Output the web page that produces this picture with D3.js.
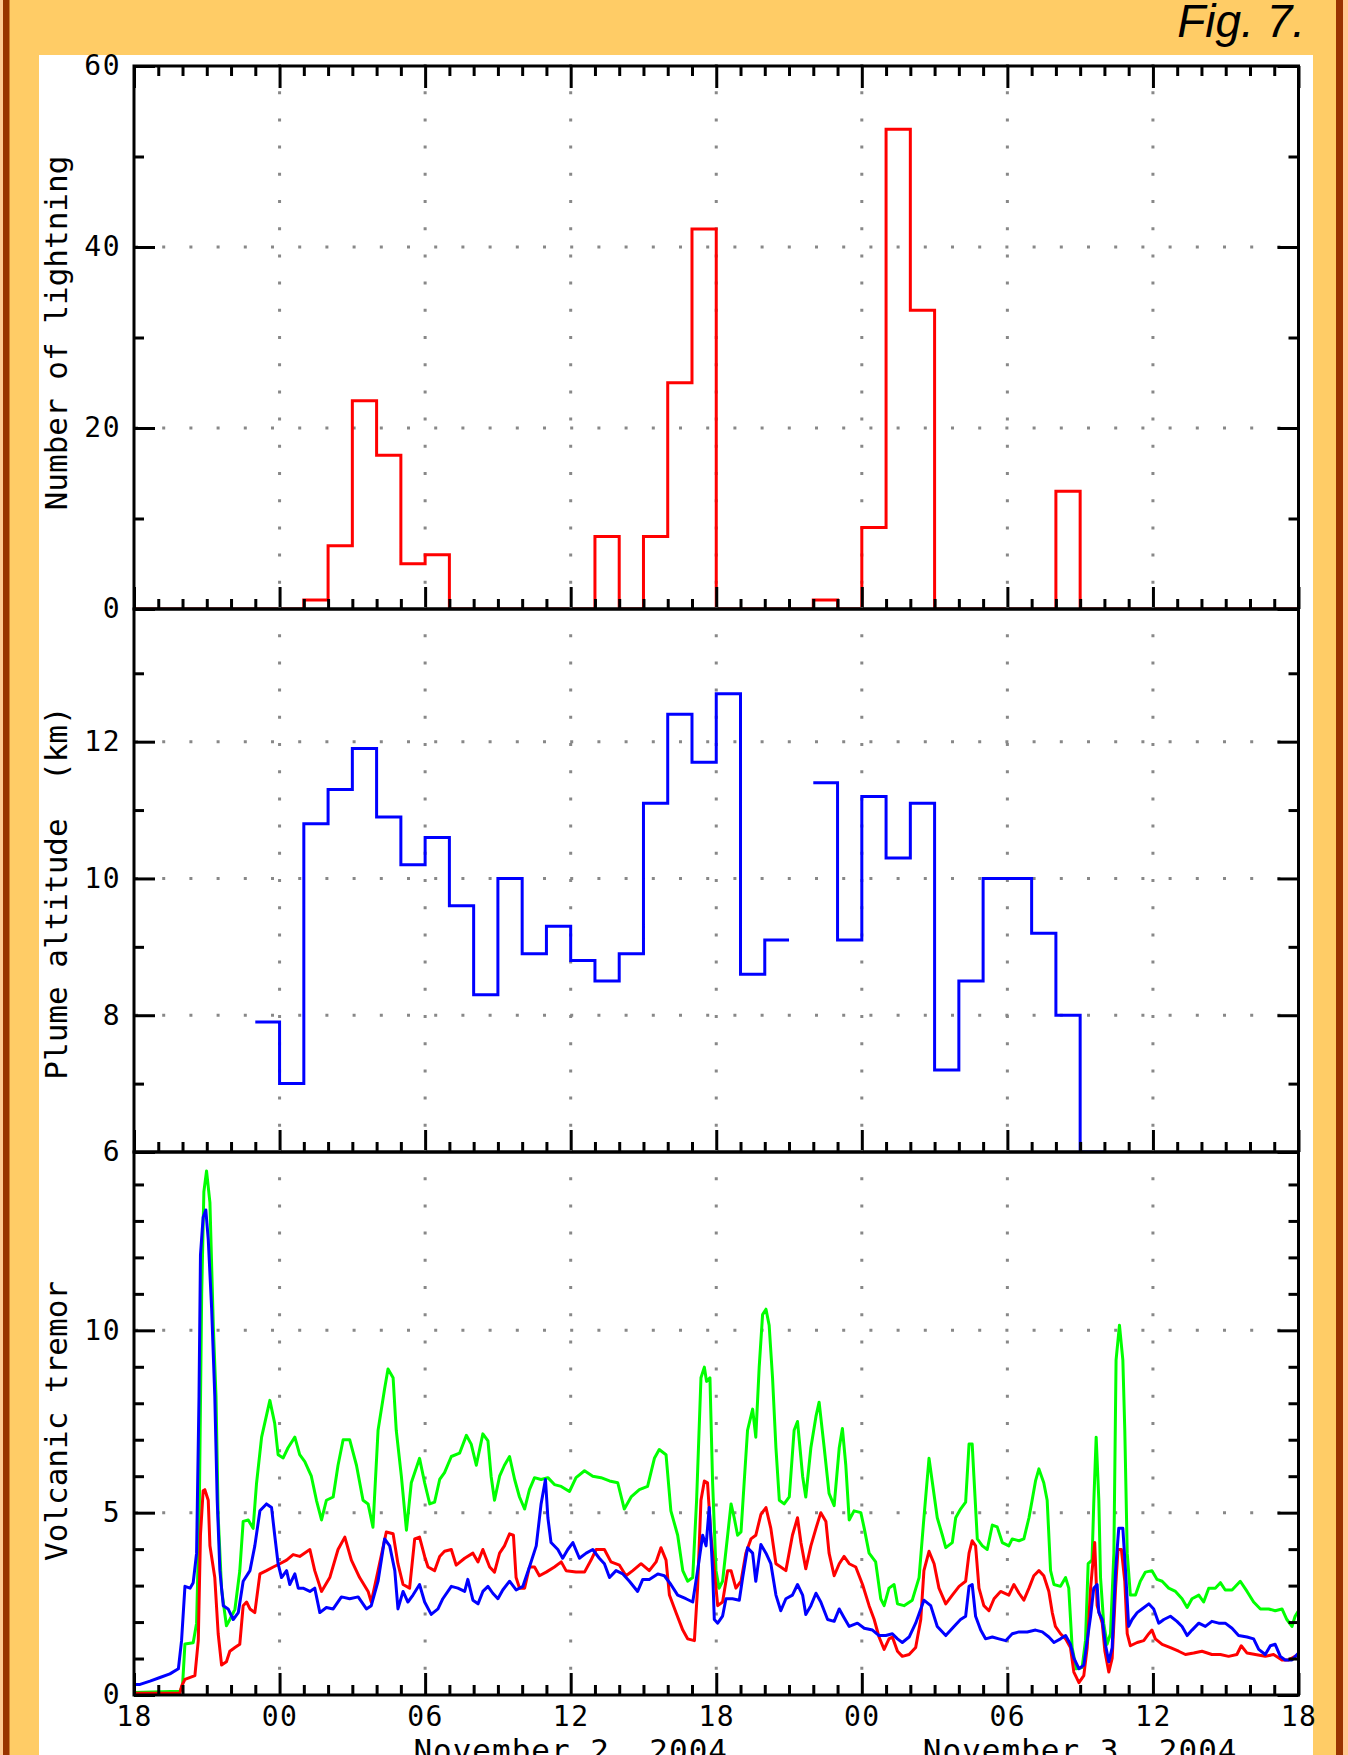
<!DOCTYPE html>
<html>
<head>
<meta charset="utf-8">
<title>Fig. 7</title>
<script src="https://cdn.jsdelivr.net/npm/d3@7"></script>
<style>
  html, body { margin: 0; padding: 0; background: #fff; }
  svg { display: block; }
  .tick line { stroke: #000; stroke-width: 3px; }
  .tick text {
    font-family: 'DejaVu Sans Mono', monospace;
    font-size: 28px;
    letter-spacing: 1.5px;
    fill: #000;
  }
  .axis-title, .day-label {
    font-family: 'DejaVu Sans Mono', monospace;
    font-size: 31px;
    fill: #000;
    white-space: pre;
  }
  .grid { stroke: #888; stroke-width: 3px; stroke-dasharray: 3 24.2; }
</style>
</head>
<body>
<svg id="chart" width="1348" height="1755"></svg>
<script>
'use strict';

// x is hours since 18:00 UT on 1 November 2004
var startClock = 18;
var spanHours = 48;
var dayLabels = [
  { text: 'November 2, 2004', from: 6, to: 30 },
  { text: 'November 3, 2004', from: 30, to: 48 }
];

// lightning count for each hourly bin (bin i covers hour i to i+1)
var lightning = [
  0, 0, 0, 0, 0, 0, 0, 1, 7, 23, 17, 5, 6, 0, 0, 0, 0, 0, 0, 8, 0, 8, 25, 42,
  0, 0, 0, 0, 1, 0, 9, 53, 33, 0, 0, 0, 0, 0, 13, 0, 0, 0, 0, 0, 0, 0, 0, 0
];

// plume altitude (km) for hourly bins starting at hour 5, null = no data
var plumeStart = 5;
var plume = [
  7.9, 7.0, 10.8, 11.3, 11.9, 10.9, 10.2, 10.6, 9.6, 8.3, 10.0, 8.9, 9.3, 8.8,
  8.5, 8.9, 11.1, 12.4, 11.7, 12.7, 8.6, 9.1, null, 11.4, 9.1, 11.2, 10.3, 11.1,
  7.2, 8.5, 10.0, 10.0, 9.2, 8.0, 6.0
];

// volcanic tremor, [hour, amplitude]
var tremorGreen = [
  [0,0.07],[1.89,0.1],[2.0,0.25],[2.1,1.4],[2.44,1.43],[2.58,1.97],[2.69,5.0],[2.79,11.0],[2.88,13.8],[2.99,14.37],
  [3.13,13.5],[3.27,10.1],[3.38,8.2],[3.47,4.9],[3.61,2.9],[3.81,1.9],[3.95,2.07],[4.16,2.35],[4.36,3.4],[4.5,4.76],
  [4.71,4.8],[4.91,4.57],[5.05,5.8],[5.26,7.07],[5.6,8.08],[5.8,7.45],[5.94,6.59],[6.15,6.5],[6.35,6.78],[6.63,7.07],
  [6.83,6.59],[7.04,6.4],[7.31,6.0],[7.52,5.34],[7.73,4.8],[7.93,5.34],[8.21,5.43],[8.41,6.3],[8.62,7.0],[8.89,7.0],
  [9.17,6.3],[9.44,5.34],[9.65,5.24],[9.85,4.6],[10.06,7.26],[10.33,8.4],[10.47,8.94],[10.68,8.7],[10.81,7.26],[11.02,6.0],
  [11.23,4.52],[11.43,5.82],[11.77,6.49],[11.98,5.82],[12.19,5.24],[12.39,5.29],[12.6,5.91],[12.8,6.1],[13.08,6.54],[13.42,6.63],
  [13.7,7.12],[13.9,6.88],[14.11,6.3],[14.38,7.16],[14.59,6.97],[14.72,6.0],[14.86,5.34],[15.07,6.0],[15.27,6.3],[15.48,6.54],
  [15.69,5.91],[15.89,5.43],[16.1,5.1],[16.3,5.63],[16.51,5.96],[16.78,5.91],[17.06,5.96],[17.33,5.77],[17.61,5.72],[17.95,5.58],
  [18.22,5.96],[18.57,6.15],[18.91,6.0],[19.25,5.96],[19.6,5.87],[19.94,5.82],[20.21,5.1],[20.49,5.43],[20.83,5.63],[21.17,5.72],
  [21.45,6.49],[21.65,6.73],[21.93,6.59],[22.13,5.05],[22.41,4.38],[22.62,3.41],[22.82,3.12],[23.03,3.22],[23.19,5.34],[23.37,8.7],
  [23.51,8.99],[23.6,8.6],[23.74,8.7],[23.85,5.82],[23.99,3.41],[24.12,2.93],[24.26,3.12],[24.47,4.38],[24.61,5.24],[24.74,4.86],
  [24.88,4.38],[25.02,4.47],[25.15,5.82],[25.29,7.26],[25.5,7.84],[25.63,7.07],[25.77,8.99],[25.91,10.43],[26.05,10.58],[26.18,10.14],
  [26.32,8.7],[26.46,6.78],[26.6,5.34],[26.8,5.24],[27.01,5.43],[27.21,7.26],[27.35,7.5],[27.56,6.0],[27.69,5.43],[27.9,6.78],
  [28.11,7.64],[28.24,8.03],[28.45,6.78],[28.65,5.53],[28.86,5.19],[29.07,6.78],[29.2,7.31],[29.34,6.3],[29.48,4.8],[29.68,5.05],
  [29.96,5.0],[30.1,4.57],[30.3,3.89],[30.57,3.65],[30.78,2.64],[30.92,2.45],[31.12,2.93],[31.33,3.03],[31.47,2.5],[31.74,2.45],
  [32.08,2.6],[32.36,3.22],[32.56,4.86],[32.77,6.49],[32.91,5.82],[33.11,4.86],[33.32,4.38],[33.46,4.04],[33.73,4.18],[33.87,4.86],
  [34.07,5.1],[34.28,5.29],[34.42,6.88],[34.55,6.88],[34.62,6.0],[34.76,4.28],[34.97,4.09],[35.17,3.99],[35.38,4.66],[35.58,4.61],
  [35.79,4.18],[36.06,4.09],[36.2,4.28],[36.48,4.23],[36.68,4.28],[36.89,4.86],[37.02,5.34],[37.16,5.87],[37.3,6.2],[37.5,5.82],
  [37.64,5.34],[37.78,3.41],[37.92,3.03],[38.19,2.98],[38.4,3.22],[38.53,2.93],[38.67,1.3],[38.84,0.72],[39.08,0.75],[39.22,1.49],
  [39.33,3.6],[39.49,3.7],[39.56,5.24],[39.66,7.07],[39.77,5.34],[39.84,3.22],[39.97,1.97],[40.11,1.39],[40.25,1.68],[40.39,3.89],
  [40.48,9.18],[40.62,10.14],[40.76,9.18],[40.84,7.26],[40.94,3.89],[41.07,2.74],[41.28,2.74],[41.48,3.12],[41.69,3.37],[41.96,3.41],
  [42.17,3.17],[42.38,3.12],[42.65,2.93],[42.93,2.84],[43.2,2.64],[43.41,2.4],[43.61,2.64],[43.89,2.74],[44.09,2.55],[44.3,2.93],
  [44.57,2.93],[44.78,3.08],[44.98,2.88],[45.26,2.88],[45.6,3.12],[45.88,2.84],[46.15,2.55],[46.43,2.36],[46.77,2.36],[47.04,2.31],
  [47.32,2.36],[47.52,2.07],[47.73,1.88],[47.86,2.16],[48,2.31]
];
var tremorRed = [
  [0,0.05],[1.89,0.05],[1.96,0.24],[2.1,0.43],[2.51,0.53],[2.65,1.5],[2.74,4.4],[2.85,5.6],[2.92,5.63],[3.06,5.34],
  [3.13,4.09],[3.33,3.22],[3.47,1.68],[3.61,0.82],[3.81,0.91],[3.95,1.2],[4.16,1.3],[4.36,1.39],[4.5,2.45],[4.64,2.55],
  [4.78,2.36],[4.98,2.26],[5.19,3.32],[5.46,3.41],[5.74,3.51],[6.01,3.6],[6.29,3.7],[6.56,3.85],[6.83,3.8],[7.25,3.99],
  [7.45,3.41],[7.73,2.84],[8.07,3.22],[8.41,3.99],[8.69,4.33],[8.96,3.7],[9.3,3.22],[9.65,2.84],[9.78,2.55],[10.06,3.41],
  [10.4,4.47],[10.68,4.42],[10.88,3.6],[11.09,3.03],[11.36,2.93],[11.57,4.28],[11.77,4.33],[11.98,3.8],[12.12,3.51],[12.39,3.41],
  [12.6,3.8],[12.8,3.94],[13.08,3.99],[13.28,3.56],[13.63,3.75],[13.97,3.89],[14.18,3.65],[14.38,3.99],[14.66,3.51],[14.86,3.37],
  [15.07,3.89],[15.27,4.09],[15.48,4.42],[15.64,4.38],[15.75,3.22],[15.89,2.93],[16.1,2.93],[16.3,3.51],[16.51,3.51],[16.71,3.27],
  [16.99,3.37],[17.33,3.51],[17.61,3.65],[17.81,3.41],[18.22,3.37],[18.57,3.37],[18.84,3.7],[19.05,3.99],[19.39,3.99],[19.66,3.65],
  [20.01,3.56],[20.28,3.27],[20.56,3.41],[20.9,3.6],[21.24,3.41],[21.52,3.65],[21.72,4.04],[21.93,3.7],[22.07,2.74],[22.34,2.26],
  [22.62,1.78],[22.82,1.54],[23.1,1.49],[23.23,2.93],[23.37,5.34],[23.51,5.87],[23.64,5.82],[23.78,4.38],[23.99,2.93],[24.06,2.45],
  [24.26,2.55],[24.47,3.41],[24.61,3.41],[24.81,2.93],[25.02,3.12],[25.22,3.89],[25.43,4.28],[25.63,4.38],[25.84,4.95],[26.05,5.14],
  [26.25,4.57],[26.46,3.6],[26.66,3.51],[26.87,3.41],[27.14,4.38],[27.35,4.86],[27.49,4.18],[27.69,3.46],[27.9,4.09],[28.11,4.57],
  [28.31,5.0],[28.52,4.76],[28.65,3.89],[28.86,3.27],[29.07,3.6],[29.27,3.8],[29.48,3.6],[29.75,3.51],[30.03,3.03],[30.3,2.45],
  [30.51,2.07],[30.71,1.59],[30.92,1.25],[31.12,1.54],[31.26,1.59],[31.47,1.2],[31.67,1.06],[31.95,1.11],[32.22,1.3],[32.43,2.07],
  [32.56,3.41],[32.77,3.94],[32.98,3.6],[33.18,2.93],[33.46,2.5],[33.73,2.74],[34.01,2.98],[34.28,3.12],[34.42,3.89],[34.55,4.23],
  [34.69,4.09],[34.83,2.93],[35.03,2.45],[35.24,2.31],[35.45,2.64],[35.72,2.84],[36.06,2.74],[36.27,3.03],[36.48,2.79],[36.68,2.6],
  [36.89,2.93],[37.09,3.27],[37.3,3.41],[37.5,3.27],[37.71,2.84],[37.85,2.26],[37.98,1.88],[38.19,1.68],[38.4,1.54],[38.6,1.3],
  [38.74,0.63],[38.95,0.34],[39.15,0.53],[39.29,1.3],[39.43,2.93],[39.52,3.6],[39.6,4.18],[39.7,2.45],[39.91,1.97],[40.02,1.2],
  [40.18,0.63],[40.32,1.01],[40.46,2.93],[40.56,3.99],[40.7,3.99],[40.84,3.12],[40.94,1.68],[41.07,1.35],[41.35,1.44],[41.62,1.49],
  [41.83,1.68],[41.96,1.78],[42.1,1.54],[42.38,1.39],[42.72,1.3],[43.06,1.2],[43.34,1.11],[43.68,1.15],[44.02,1.2],[44.43,1.11],
  [44.78,1.11],[45.12,1.06],[45.46,1.11],[45.64,1.35],[45.88,1.15],[46.22,1.11],[46.63,1.06],[46.97,1.11],[47.32,0.96],[47.59,0.96],
  [47.86,1.06],[48,1.11]
];
var tremorBlue = [
  [0,0.29],[0.25,0.29],[0.66,0.38],[1.07,0.48],[1.48,0.58],[1.83,0.72],[1.96,1.49],[2.1,2.98],[2.31,2.93],[2.44,3.08],
  [2.58,3.89],[2.68,8.2],[2.74,12.07],[2.85,13.1],[2.96,13.3],[3.06,12.5],[3.2,10.6],[3.33,8.2],[3.43,5.34],[3.54,3.41],
  [3.68,2.45],[3.88,2.36],[4.09,2.07],[4.3,2.26],[4.5,3.12],[4.78,3.41],[4.98,4.09],[5.19,5.05],[5.46,5.24],[5.67,5.14],
  [5.8,4.38],[5.94,3.6],[6.08,3.22],[6.29,3.41],[6.42,3.03],[6.63,3.32],[6.77,2.93],[6.97,2.93],[7.25,2.84],[7.45,2.93],
  [7.66,2.26],[7.93,2.4],[8.21,2.36],[8.55,2.69],[8.89,2.64],[9.24,2.69],[9.58,2.36],[9.78,2.45],[10.06,3.12],[10.33,4.28],
  [10.54,4.09],[10.75,3.41],[10.88,2.36],[11.09,2.84],[11.29,2.55],[11.5,2.74],[11.77,3.03],[11.98,2.55],[12.25,2.21],[12.53,2.36],
  [12.73,2.64],[13.08,2.98],[13.35,2.93],[13.63,2.84],[13.76,3.17],[13.97,2.6],[14.18,2.5],[14.38,2.84],[14.59,2.98],[14.79,2.79],
  [15.0,2.64],[15.2,2.88],[15.48,3.12],[15.75,2.88],[16.03,2.98],[16.3,3.51],[16.58,4.09],[16.78,5.24],[16.96,5.91],[17.06,4.86],
  [17.19,4.18],[17.47,3.99],[17.67,3.75],[17.88,3.99],[18.09,4.18],[18.36,3.75],[18.64,3.89],[18.91,3.99],[19.18,3.75],[19.39,3.6],
  [19.6,3.22],[19.87,3.41],[20.15,3.32],[20.42,3.12],[20.76,2.84],[20.97,3.17],[21.24,3.17],[21.59,3.32],[21.86,3.27],[22.13,3.03],
  [22.41,2.74],[22.75,2.64],[23.03,2.55],[23.23,3.41],[23.44,4.38],[23.58,4.09],[23.71,5.14],[23.85,3.41],[23.92,2.07],[24.06,1.97],
  [24.26,2.16],[24.4,2.64],[24.67,2.64],[24.95,2.6],[25.09,3.22],[25.29,4.04],[25.5,3.89],[25.63,3.12],[25.84,4.13],[26.05,3.89],
  [26.25,3.6],[26.46,2.74],[26.66,2.31],[26.87,2.64],[27.14,2.74],[27.35,3.03],[27.56,2.74],[27.69,2.21],[27.9,2.45],[28.11,2.79],
  [28.31,2.55],[28.59,2.07],[28.86,2.02],[29.07,2.36],[29.27,2.12],[29.48,1.88],[29.82,1.97],[30.1,1.83],[30.44,1.78],[30.71,1.63],
  [30.99,1.63],[31.26,1.68],[31.47,1.54],[31.67,1.44],[31.95,1.59],[32.22,1.97],[32.56,2.6],[32.84,2.45],[33.11,1.88],[33.46,1.63],
  [33.8,1.88],[34.07,2.07],[34.28,2.16],[34.42,2.98],[34.55,3.03],[34.69,2.16],[34.9,1.78],[35.1,1.54],[35.38,1.59],[35.65,1.54],
  [35.93,1.49],[36.2,1.68],[36.48,1.73],[36.82,1.73],[37.16,1.78],[37.44,1.73],[37.71,1.59],[37.92,1.44],[38.19,1.54],[38.4,1.63],
  [38.6,1.39],[38.74,1.01],[38.95,0.72],[39.15,0.82],[39.29,1.49],[39.43,2.16],[39.56,2.93],[39.7,3.03],[39.77,2.26],[39.91,2.07],
  [40.04,1.39],[40.18,0.91],[40.32,1.3],[40.46,3.41],[40.59,4.57],[40.76,4.57],[40.87,3.41],[41.0,1.88],[41.14,2.07],[41.35,2.26],
  [41.55,2.36],[41.83,2.5],[42.03,2.36],[42.24,1.97],[42.45,2.07],[42.72,2.16],[42.99,2.02],[43.2,1.88],[43.41,1.63],[43.61,1.78],
  [43.89,1.97],[44.16,1.88],[44.43,2.02],[44.71,1.97],[44.98,1.97],[45.26,1.83],[45.53,1.63],[45.88,1.59],[46.15,1.54],[46.36,1.25],
  [46.63,1.11],[46.84,1.35],[47.04,1.39],[47.25,1.06],[47.45,0.96],[47.73,0.96],[48,1.15]
];

// tick values
var xMajor = d3.range(0, spanHours + 1, 6);
var xMinor = d3.range(0, spanHours + 1).filter(function(h) { return h % 6; });
var xGrid = d3.range(6, spanHours, 6);

var svg = d3.select('#chart');
var W = 1348, H = 1755;
var plotLeft = 134, plotRight = 1298.5;
var panelTops = [66, 609, 1152], panelBottom = 1695;

// page frame
svg.append('rect').attr('width', W).attr('height', H).attr('fill', '#ffcc66');
[[0, 3, '#ffc891'], [3, 6.5, '#993300'], [1336, 7, '#993300'], [1343, 5, '#ffc891']].forEach(function(s) {
  svg.append('rect').attr('x', s[0]).attr('y', 0).attr('width', s[1]).attr('height', H).attr('fill', s[2]);
});
svg.append('rect').attr('x', 39).attr('y', 55).attr('width', 1313 - 39).attr('height', H - 55).attr('fill', '#fff');

svg.append('text')
  .attr('x', 1305).attr('y', 37)
  .attr('text-anchor', 'end')
  .style('font-family', "'Liberation Sans', Arial, sans-serif")
  .style('font-style', 'italic')
  .style('font-size', '46px')
  .text('Fig. 7.');

var x = d3.scaleLinear().domain([0, spanHours]).range([plotLeft, plotRight]);

var clockFormat = function(h) {
  return String((startClock + h) % 24).padStart(2, '0');
};

var panels = [
  {
    title: 'Number of lightning', titleY: 333,
    domain: [0, 60], major: [0, 20, 40, 60], minor: [10, 30, 50], grid: [20, 40]
  },
  {
    title: 'Plume altitude  (km)', titleY: 893,
    domain: [6, 13.94], major: [6, 8, 10, 12], minor: [7, 9, 11, 13], grid: [8, 10, 12]
  },
  {
    title: 'Volcanic tremor', titleY: 1421,
    domain: [0, 14.89], major: [0, 5, 10], minor: [1, 2, 3, 4, 6, 7, 8, 9, 11, 12, 13, 14], grid: [5, 10]
  }
];

function noDomain(g) { g.select('.domain').remove(); }

/**
 * Step outline for hourly bins; null breaks the line.
 */
function stepSegments(values, start) {
  var segs = [], cur = null;
  values.forEach(function(v, i) {
    if (v == null) { cur = null; return; }
    if (!cur) { cur = []; segs.push(cur); }
    cur.push([start + i, v], [start + i + 1, v]);
  });
  return segs;
}

panels.forEach(function(p, i) {
  var top = panelTops[i];
  var bottom = i < 2 ? panelTops[i + 1] : panelBottom;
  var y = d3.scaleLinear().domain(p.domain).range([bottom, top]);
  p.y = y;
  var g = svg.append('g').attr('class', 'panel panel-' + i);

  g.append('clipPath').attr('id', 'clip-' + i)
    .append('rect').attr('x', plotLeft).attr('y', top)
    .attr('width', plotRight - plotLeft).attr('height', bottom - top);

  // dotted grid
  g.selectAll('.vgrid').data(xGrid).enter().append('line')
    .attr('class', 'grid')
    .attr('x1', x).attr('x2', x)
    .attr('y1', top - 2).attr('y2', bottom);
  g.selectAll('.hgrid').data(p.grid).enter().append('line')
    .attr('class', 'grid')
    .attr('x1', plotLeft + 1).attr('x2', plotRight)
    .attr('y1', y).attr('y2', y);

  p.plot = g.append('g').attr('clip-path', 'url(#clip-' + i + ')');

  // ticks, all pointing inward
  var bottomAxis = g.append('g').attr('transform', 'translate(0,' + bottom + ')');
  bottomAxis.append('g')
    .call(d3.axisBottom(x).tickValues(xMajor).tickSize(-22).tickPadding(11)
      .tickFormat(i === 2 ? clockFormat : ''))
    .call(noDomain);
  bottomAxis.append('g')
    .call(d3.axisBottom(x).tickValues(xMinor).tickSize(-10).tickFormat(''))
    .call(noDomain);

  if (i === 0) {
    var topAxis = g.append('g').attr('transform', 'translate(0,' + top + ')');
    topAxis.append('g').call(d3.axisTop(x).tickValues(xMajor).tickSize(-22).tickFormat('')).call(noDomain);
    topAxis.append('g').call(d3.axisTop(x).tickValues(xMinor).tickSize(-10).tickFormat('')).call(noDomain);
  }

  var leftAxis = g.append('g').attr('transform', 'translate(' + plotLeft + ',0)');
  leftAxis.append('g')
    .call(d3.axisLeft(y).tickValues(p.major).tickSize(-21).tickPadding(13).tickFormat(d3.format('d')))
    .call(noDomain);
  leftAxis.append('g')
    .call(d3.axisLeft(y).tickValues(p.minor).tickSize(-10).tickFormat(''))
    .call(noDomain);

  var rightAxis = g.append('g').attr('transform', 'translate(' + plotRight + ',0)');
  rightAxis.append('g').call(d3.axisRight(y).tickValues(p.major).tickSize(-21).tickFormat('')).call(noDomain);
  rightAxis.append('g').call(d3.axisRight(y).tickValues(p.minor).tickSize(-10).tickFormat('')).call(noDomain);

  g.append('text')
    .attr('class', 'axis-title')
    .attr('transform', 'translate(67,' + p.titleY + ') rotate(-90)')
    .attr('text-anchor', 'middle')
    .text(p.title);

  p.frame = g;
  p.top = top;
  p.bottom = bottom;
});

// lightning histogram
var yL = panels[0].y;
panels[0].plot.append('path')
  .datum(stepSegments(lightning, 0)[0])
  .attr('fill', 'none').attr('stroke', '#ff0000').attr('stroke-width', 3)
  .attr('d', d3.line().x(function(d) { return x(d[0]); }).y(function(d) { return yL(d[1]); }));

// plume altitude
var yP = panels[1].y;
panels[1].plot.selectAll('path')
  .data(stepSegments(plume, plumeStart))
  .enter().append('path')
  .attr('fill', 'none').attr('stroke', '#0000ff').attr('stroke-width', 3)
  .attr('d', d3.line().x(function(d) { return x(d[0]); }).y(function(d) { return yP(d[1]); }));

// tremor
var yT = panels[2].y;
var tremorLine = d3.line().x(function(d) { return x(d[0]); }).y(function(d) { return yT(d[1]); });
[[tremorGreen, '#00ff00'], [tremorRed, '#ff0000'], [tremorBlue, '#0000ff']].forEach(function(s) {
  panels[2].plot.append('path')
    .datum(s[0])
    .attr('fill', 'none').attr('stroke', s[1]).attr('stroke-width', 3)
    .attr('stroke-linejoin', 'round')
    .attr('d', tremorLine);
});

// panel frames on top
panels.forEach(function(p) {
  p.frame.append('rect')
    .attr('x', plotLeft).attr('y', p.top)
    .attr('width', plotRight - plotLeft).attr('height', p.bottom - p.top)
    .attr('fill', 'none').attr('stroke', '#000').attr('stroke-width', 3);
});

// day captions sit partly below the page edge, as in the original scan
svg.selectAll('.day-label').data(dayLabels).enter().append('text')
  .attr('class', 'day-label')
  .attr('x', function(d) { return x((d.from + d.to) / 2); })
  .attr('y', 1761)
  .attr('text-anchor', 'middle')
  .style('letter-spacing', '1px')
  .text(function(d) { return d.text; });
</script>
</body>
</html>
